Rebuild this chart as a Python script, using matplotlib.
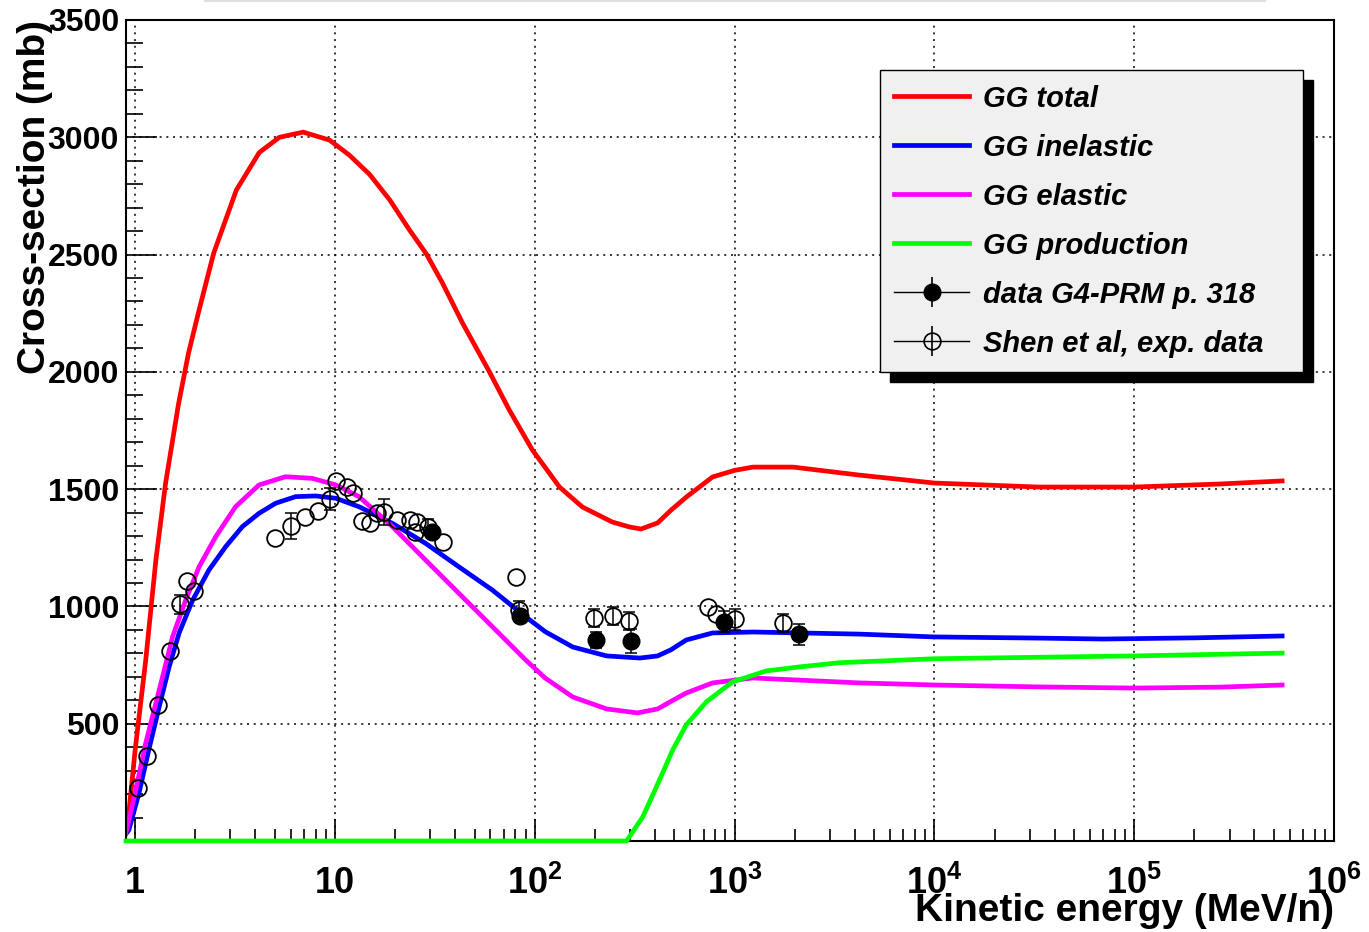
import numpy as np
import matplotlib.pyplot as plt
from matplotlib.lines import Line2D
from matplotlib.patches import Rectangle
from matplotlib.legend_handler import HandlerTuple
from matplotlib.ticker import MultipleLocator, LogLocator, FuncFormatter, NullFormatter

plt.rcParams['font.family'] = ['Liberation Sans', 'DejaVu Sans']
plt.rcParams['font.weight'] = 'bold'
plt.rcParams['mathtext.fontset'] = 'custom'
plt.rcParams['mathtext.rm'] = 'Liberation Sans:bold'
plt.rcParams['mathtext.bf'] = 'Liberation Sans:bold'
plt.rcParams['mathtext.default'] = 'bf'

# GG model curves (kinetic energy in MeV/n, cross-section in mb)
E_total = [0.9, 0.93, 1.0, 1.13, 1.27, 1.42, 1.65, 1.85, 2.07, 2.47, 3.21, 4.18, 5.27, 6.94, 9.4,
           11.8, 14.9, 18.8, 23.6, 28.7, 34.5, 43.5, 59.3, 74.6, 97.3, 133, 173, 244, 297, 340,
           412, 480, 573, 776, 1000, 1236, 1965, 4200, 1e4, 3.3e4, 1e5, 2.7e5, 5.5e5]
total = [90, 119, 388, 772, 1198, 1525, 1865, 2080, 2250, 2505, 2775, 2935, 3000, 3022, 2988,
         2924, 2842, 2733, 2605, 2502, 2379, 2208, 2000, 1837, 1667, 1509, 1424, 1360, 1339, 1330,
         1356, 1410, 1466, 1552, 1580, 1594, 1594, 1560, 1526, 1509, 1509, 1522, 1535]

E_inel = [0.9, 0.93, 1.046, 1.17, 1.32, 1.48, 1.66, 1.94, 2.34, 2.84, 3.44, 4.17, 5.05, 6.36, 8.0,
          10.1, 13.2, 19.4, 28.4, 41.7, 61.3, 90, 113, 155, 229, 336, 412, 480, 573, 776, 1236,
          4200, 1e4, 3.3e4, 7e4, 2e5, 5.5e5]
inel = [30, 47, 205, 388, 573, 743, 887, 1027, 1155, 1255, 1340, 1397, 1440, 1468, 1471,
        1461, 1425, 1354, 1269, 1169, 1070, 956, 892, 827, 789, 780, 789, 815, 857, 887, 891,
        882, 870, 865, 861, 866, 874]

E_el = [0.9, 1.0, 1.13, 1.32, 1.54, 1.79, 2.09, 2.53, 3.18, 4.17, 5.66, 7.7, 10.1, 13.2, 19.4,
        28.4, 41.7, 61.3, 90, 113, 155, 229, 327, 412, 480, 573, 776, 1236, 4200, 1e4, 3.3e4,
        1e5, 2.7e5, 5.5e5]
el = [35, 205, 418, 644, 871, 1027, 1169, 1297, 1425, 1518, 1553, 1546, 1518, 1468, 1340,
      1198, 1056, 914, 772, 694, 614, 563, 546, 563, 595, 631, 674, 695, 674, 665, 657,
      652, 656, 665]

E_prod = [0.9, 288, 347, 421, 490, 573, 722, 975, 1440, 2100, 3340, 1e4, 1e5, 5.5e5]
prod = [0, 0, 102, 260, 388, 495, 593, 678, 725, 742, 760, 777, 789, 801]

# data G4-PRM p. 318
E_prm = [30.6, 84, 202, 302, 888, 2100]
sig_prm = [1317, 958, 857, 853, 934, 882]
err_prm = [30, 25, 35, 50, 45, 45]

# Shen et al, exp. data
E_shen = [1.03, 1.14, 1.30, 1.49, 1.68, 1.81, 1.96, 5.04, 6.0, 7.1, 8.25, 9.4, 10.1, 11.5, 12.3,
          13.7, 15.0, 16.3, 17.5, 20.4, 23.7, 25.7, 25.2, 29.2, 34.8, 80.5, 83.5, 197, 246, 295,
          733, 812, 1005, 1740]
sig_shen = [227, 362, 580, 810, 1009, 1110, 1066, 1292, 1343, 1381, 1407, 1458, 1535, 1509, 1484,
            1364, 1356, 1398, 1403, 1368, 1368, 1360, 1317, 1339, 1275, 1125, 985, 951, 959, 938,
            998, 968, 946, 929]
err_shen = [10, 10, 15, 20, 40, 20, 20, 20, 55, 25, 25, 45, 25, 25, 25,
            20, 20, 20, 55, 20, 20, 20, 20, 35, 20, 20, 40, 40, 40, 40,
            20, 20, 45, 40]

fig = plt.figure(figsize=(13.69, 9.32), dpi=100)
ax = fig.add_axes([126 / 1369, 91 / 932, 1208 / 1369, 821 / 932])

lw = 3.4
ax.plot(E_total, total, color='#ff0000', lw=lw, label='GG total')
ax.plot(E_inel, inel, color='#0000ff', lw=lw, label='GG inelastic')
ax.plot(E_el, el, color='#ff00ff', lw=lw, label='GG elastic')
ax.plot(E_prod, prod, color='#00ff00', lw=lw, label='GG production', clip_on=False, zorder=3)

# error bars only where they stick out of the marker
E_shen_a, sig_shen_a, err_shen_a = np.array(E_shen), np.array(sig_shen), np.array(err_shen)
m = err_shen_a > 30
ax.errorbar(E_shen_a[m], sig_shen_a[m], yerr=err_shen_a[m], fmt='none', ecolor='black',
            elinewidth=1.1, capsize=4, capthick=1.1, zorder=4)
ax.plot(E_shen, sig_shen, ls='none', marker='o', ms=12, mfc='none', mec='black', mew=1.3, zorder=4)

E_prm_a, sig_prm_a, err_prm_a = np.array(E_prm), np.array(sig_prm), np.array(err_prm)
m = err_prm_a > 30
ax.errorbar(E_prm_a[m], sig_prm_a[m], yerr=err_prm_a[m], fmt='none', ecolor='black',
            elinewidth=1.1, capsize=4, capthick=1.1, zorder=4)
ax.plot(E_prm, sig_prm, ls='none', marker='o', ms=12, mfc='black', mec='black', zorder=4)

ax.set_xscale('log')
ax.set_xlim(0.9, 1e6)
ax.set_ylim(0, 3500)

ax.yaxis.set_major_locator(MultipleLocator(500))
ax.yaxis.set_minor_locator(MultipleLocator(100))
ax.yaxis.set_major_formatter(FuncFormatter(lambda v, p: '' if v == 0 else '%d' % v))
ax.xaxis.set_major_locator(LogLocator(base=10, numticks=20))
ax.xaxis.set_minor_locator(LogLocator(base=10, subs=np.arange(2, 10), numticks=20))
ax.xaxis.set_minor_formatter(NullFormatter())


def xfmt(v, p):
    n = int(round(np.log10(v)))
    if n == 0:
        return '1'
    if n == 1:
        return '10'
    return r'$10^{%d}$' % n


ax.xaxis.set_major_formatter(FuncFormatter(xfmt))

ax.tick_params(axis='y', which='major', direction='in', length=22, width=1.2, labelsize=23, pad=5)
ax.tick_params(axis='y', which='minor', direction='in', length=12, width=1.2)
ax.tick_params(axis='x', which='major', direction='in', length=16, width=1.2, labelsize=26, pad=18)
ax.tick_params(axis='x', which='minor', direction='in', length=8.5, width=1.2)
for s in ax.spines.values():
    s.set_linewidth(1.5)

ax.grid(True, which='major', color='black', lw=1.1, linestyle=(0, (1.3, 3.1)))
ax.set_axisbelow(True)

ax.set_ylabel('Cross-section (mb)', fontsize=28, fontweight='bold', loc='top')
ax.yaxis.set_label_coords(-0.0605, 1.0)
ax.set_xlabel('Kinetic energy (MeV/n)', fontsize=28, fontweight='bold', loc='right')
ax.xaxis.set_label_coords(1.0, -0.063)

# legend
h = ax.get_legend_handles_labels()[0]
h_prm = (Line2D([], [], color='black', lw=1.0),
         Line2D([], [], ls='none', marker='|', ms=21, mew=1.2, color='black'),
         Line2D([], [], ls='none', marker='o', ms=12, mfc='black', mec='black'))
h_shen = (Line2D([], [], color='black', lw=1.0),
          Line2D([], [], ls='none', marker='|', ms=21, mew=1.2, color='black'),
          Line2D([], [], ls='none', marker='o', ms=12, mfc='none', mec='black', mew=1.2))
labels = ['GG total', 'GG inelastic', 'GG elastic', 'GG production',
          'data G4-PRM p. 318', 'Shen et al, exp. data']
leg = ax.legend(h + [h_prm, h_shen], labels, loc='upper left',
                bbox_to_anchor=(0.624, 0.939, 0.350, 0.0), mode='expand',
                handler_map={tuple: HandlerTuple(ndivide=1)},
                prop={'family': 'Liberation Sans', 'weight': 'bold', 'style': 'italic', 'size': 21},
                fancybox=False, framealpha=1, facecolor='#f0f0f0', edgecolor='black',
                handlelength=2.57, handletextpad=0.48, labelspacing=0.72, borderpad=0.5,
                borderaxespad=0.0, numpoints=1)
leg.get_frame().set_linewidth(1.0)
leg.set_zorder(6)

fig.canvas.draw()
bb = leg.get_window_extent().transformed(ax.transAxes.inverted())
ax.add_patch(Rectangle((bb.x0 + 10 / 1208, bb.y0 - 10 / 821), bb.width, bb.height,
                       transform=ax.transAxes, color='black', clip_on=False, zorder=5.5))

fig.add_artist(Line2D([205 / 1369, 1265 / 1369], [0.999, 0.999], color='#e0e0e0', lw=1.5))

fig.savefig('out.png', dpi=100)
